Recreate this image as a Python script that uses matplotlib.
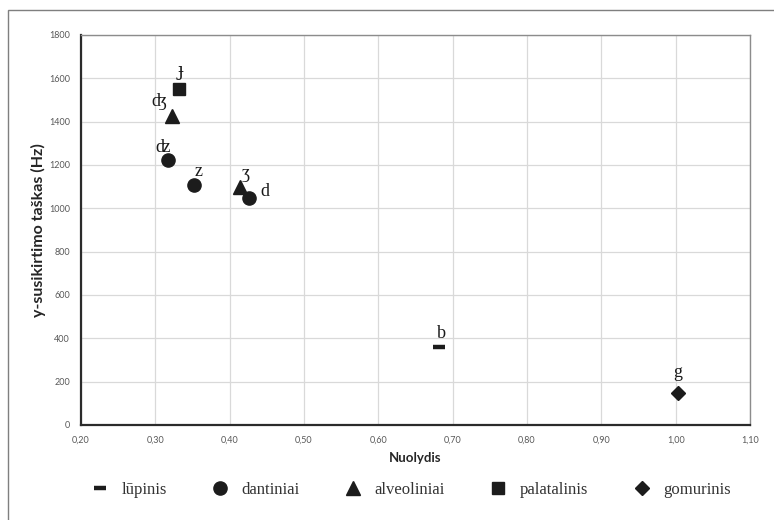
import matplotlib
matplotlib.use("Agg")
import matplotlib.pyplot as plt
from matplotlib.patches import Rectangle
from matplotlib.ticker import FuncFormatter, MultipleLocator

SERIF = ['Liberation Serif', 'DejaVu Serif']
SANS = ['Lato', 'DejaVu Sans']

# series: (legend name, marker, x values, y values, point labels)
groups = ["lūpinis", "dantiniai", "alveoliniai", "palatalinis", "gomurinis"]
markers = ["_", "o", "^", "s", "D"]

lupinis_x = [0.682]
lupinis_y = [358]
lupinis_lbl = ["b"]

dantiniai_x = [0.317, 0.352, 0.426]
dantiniai_y = [1222, 1110, 1050]
dantiniai_lbl = ["ʣ", "z", "d"]

alveoliniai_x = [0.322, 0.414]
alveoliniai_y = [1427, 1098]
alveoliniai_lbl = ["ʤ", "ʒ"]

palatalinis_x = [0.332]
palatalinis_y = [1553]
palatalinis_lbl = ["ɟ"]

gomurinis_x = [1.003]
gomurinis_y = [150]
gomurinis_lbl = ["g"]

# label offsets in pixels (dx, dy) as Excel placed them
offsets = {"b": (2, 14), "ʣ": (-5, 13), "z": (5, 13), "d": (16, 6),
           "ʤ": (-13, 14), "ʒ": (6, 14), "ɟ": (1, 18), "g": (0, 20)}

data = [(lupinis_x, lupinis_y, lupinis_lbl),
        (dantiniai_x, dantiniai_y, dantiniai_lbl),
        (alveoliniai_x, alveoliniai_y, alveoliniai_lbl),
        (palatalinis_x, palatalinis_y, palatalinis_lbl),
        (gomurinis_x, gomurinis_y, gomurinis_lbl)]

fig = plt.figure(figsize=(7.74, 5.20), dpi=100)
ax = fig.add_axes([81/774, 1-425/520, 669/774, 390/520])

mcol = "#1c1c1c"
handles = []
for name, m, (xs, ys, lbls) in zip(groups, markers, data):
    if m == "_":
        h, = ax.plot(xs, ys, linestyle="none", marker=m, markersize=8.5,
                     markeredgewidth=3.2, color=mcol, label=name)
    else:
        sz = {"o": 9.5, "^": 9.5, "s": 9, "D": 7.5}[m]
        h, = ax.plot(xs, ys, linestyle="none", marker=m, markersize=sz,
                     color=mcol, markeredgecolor=mcol, label=name)
    handles.append(h)
    for x, y, t in zip(xs, ys, lbls):
        dx, dy = offsets[t]
        fam = ['DejaVu Serif'] if t == "ɟ" else SERIF
        ax.annotate(t, (x, y), xytext=(dx, dy), textcoords="offset pixels",
                    ha="center", va="center", fontsize=13, family=fam,
                    color="#1a1a1a")

ax.set_xlim(0.2, 1.1)
ax.set_ylim(0, 1800)
ax.xaxis.set_major_locator(MultipleLocator(0.1))
ax.yaxis.set_major_locator(MultipleLocator(200))
ax.xaxis.set_major_formatter(FuncFormatter(lambda v, p: f"{v:.2f}".replace(".", ",")))
ax.yaxis.set_major_formatter(FuncFormatter(lambda v, p: f"{v:.0f}"))
ax.grid(True, color="#d9d9d9", linewidth=0.9)
ax.set_axisbelow(True)
ax.tick_params(length=0, labelsize=6.5, labelcolor="#595959", pad=8)
for lab in ax.get_xticklabels() + ax.get_yticklabels():
    lab.set_family(SANS)

for s in ["left", "bottom"]:
    ax.spines[s].set_color("#2b2b2b")
    ax.spines[s].set_linewidth(1.6)
for s in ["top", "right"]:
    ax.spines[s].set_color("#8c8c8c")
    ax.spines[s].set_linewidth(1.0)

ax.set_xlabel("Nuolydis", fontsize=9.5, fontweight="bold", family=SANS,
              color="#262626", labelpad=5)
ax.set_ylabel("y-susikirtimo taškas (Hz)", fontsize=11.5, fontweight="bold",
              family=SANS, color="#262626", labelpad=2)

fig.legend(handles=handles, loc="center", bbox_to_anchor=(0.53, 1-490/520),
           ncol=5, frameon=False, prop={"family": SERIF, "size": 12},
           handletextpad=0.7, columnspacing=2.6, handlelength=1.2,
           labelcolor="#333333")

# outer chart frame
fig.patches.append(Rectangle((8/774, -0.1), 1.2, 1-10/520+0.1,
                             transform=fig.transFigure, fill=False,
                             edgecolor="#7f7f7f", linewidth=1.0))

fig.savefig("out.png", dpi=100)
